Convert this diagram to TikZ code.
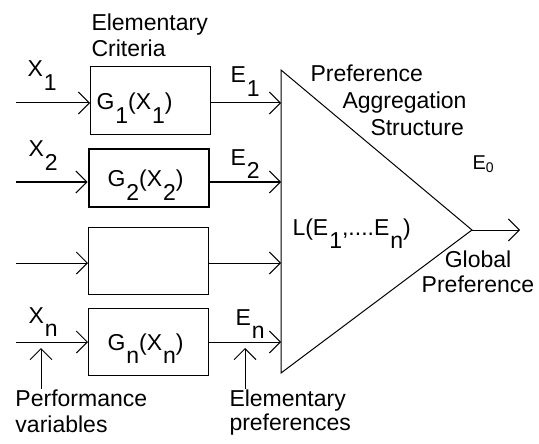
\documentclass[tikz,border=0pt]{standalone}
\usepackage{fontspec}
\setmainfont{Liberation Sans}
\usetikzlibrary{arrows.meta}
\newcommand{\lo}[1]{\kern1pt\raisebox{-0.6em}{#1}}

\begin{document}
\begin{tikzpicture}[x=1pt, y=-1pt, line width=1pt,
    >={Straight Barb[length=11pt, width=22pt, line width=1pt]},
    lbl/.style={inner sep=0pt, font=\fontsize{23}{26}\selectfont},
    note/.style={lbl, align=left, anchor=north west},
    crit/.style={draw, lbl, minimum width=120pt, inner ysep=0pt, inner xsep=19pt,
      text width=82pt, align=left, text height=17pt, text depth=0pt}]
  \useasboundingbox (0,0) rectangle (539,444);
  % elementary criteria
  \node[crit, minimum height=68pt, inner xsep=6pt, text width=108pt] (g1) at (150.5,101) {G\lo{1}(X\lo{1})};
  \node[crit, minimum height=58pt, line width=2pt] (g2) at (148.5,178) {G\lo{2}(X\lo{2})};
  \node[crit, minimum height=67pt] (g3) at (148.5,260.5) {};
  \node[crit, minimum height=67pt] (gn) at (148.5,341.5) {G\lo{n}(X\lo{n})};
  \node[note] (crit) at (91,13) {Elementary\\Criteria};
  % aggregation structure
  \coordinate (tl) at (281,70);
  \coordinate (bl) at (281,373);
  \coordinate (tip) at (472,230);
  \coordinate (out) at (520,230);
  \draw (tl) -- (tip) -- (bl) -- cycle;
  \draw[->] (tip) -- (out);
  \node[note, font=\fontsize{23}{27}\selectfont] (pas) at (310,64) {Preference\\\hspace*{32pt}Aggregation\\\hspace*{60pt}Structure};
  \node[lbl, anchor=base west] (lf) at (292,235) {L(E\lo{1},....E\lo{n})};
  \node[lbl, anchor=base west, font=\fontsize{20}{20}\selectfont] (e0) at (472,170) {E\raisebox{-2pt}{\fontsize{14}{14}\selectfont 0}};
  \node[lbl, align=center, anchor=north, font=\fontsize{23}{25}\selectfont] (glob) at (478,250) {Global\\Preference};
  % inputs
  \coordinate (in1) at (16,103);
  \coordinate (in2) at (16,182);
  \coordinate (in3) at (16,263);
  \coordinate (inn) at (16,342);
  \draw[->] (in1) -- (in1 -| g1.west);
  \draw[->, line width=2pt] (in2) -- (in2 -| g2.west);
  \draw[->] (in3) -- (in3 -| g3.west);
  \draw[->] (inn) -- (inn -| gn.west);
  \node[lbl, anchor=base west] (x1) at (27,77) {X\lo{1}};
  \node[lbl, anchor=base west] (x2) at (28,157) {X\lo{2}};
  \node[lbl, anchor=base west] (xn) at (28,323) {X\lo{n}};
  % elementary preferences
  \draw[->] (in1 -| g1.east) -- (in1 -| tl);
  \draw[->, line width=2pt] (in2 -| g2.east) -- (in2 -| tl);
  \draw[->] (in3 -| g3.east) -- (in3 -| tl);
  \draw[->] (inn -| gn.east) -- (inn -| tl);
  \node[lbl, anchor=base west] (e1) at (230,83) {E\lo{1}};
  \node[lbl, anchor=base west] (e2) at (230,165) {E\lo{2}};
  \node[lbl, anchor=base west] (en) at (235,325) {E\lo{n}};
  % bottom notes
  \node[note] (perf) at (15,389) {Performance\\variables};
  \node[note, font=\fontsize{23}{24}\selectfont] (pref) at (229,389) {Elementary\\preferences};
  \coordinate (pv) at (41,348);
  \coordinate (ep) at (245,348);
  \draw[->] (perf.north -| pv) -- (pv);
  \draw[->] (pref.north -| ep) -- (ep);
\end{tikzpicture}
\end{document}
